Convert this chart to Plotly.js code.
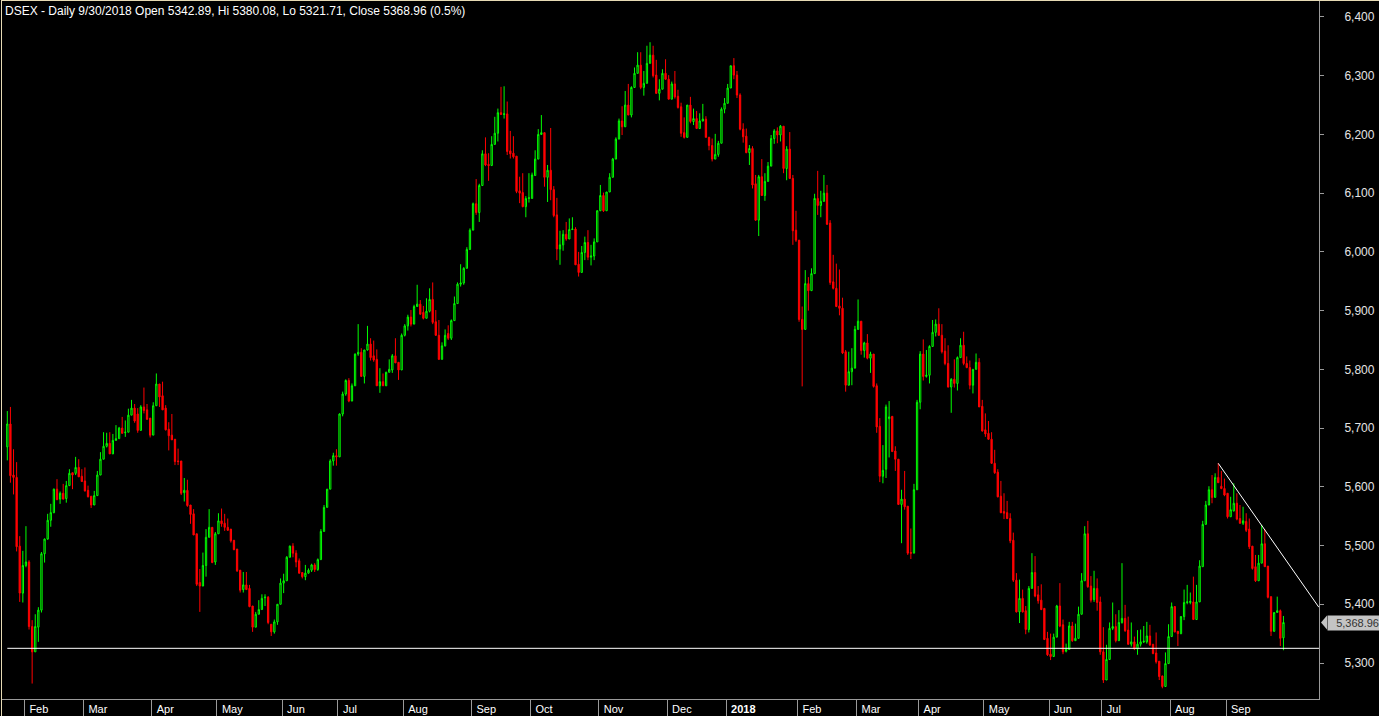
<!DOCTYPE html>
<html>
<head>
<meta charset="utf-8">
<script src="https://cdn.plot.ly/plotly-3.0.1.min.js"></script>
<style>
html,body{margin:0;padding:0;background:#000;overflow:hidden}
#chart{width:1379px;height:716px;position:absolute;left:0;top:0}
#frame{position:absolute;left:1px;top:0;width:1378px;height:716px;border-top:1px solid #e6dab4;border-left:1px solid #e6dab4;box-sizing:border-box;pointer-events:none}
</style>
</head>
<body>
<div id="chart"></div>
<div id="frame"></div>
<script>
// ---------------- data ----------------
const symbol = 'DSEX';
const headerText = 'DSEX - Daily 9/30/2018 Open 5342.89, Hi 5380.08, Lo 5321.71, Close 5368.96 (0.5%)';
const monthLabels = ['Feb','Mar','Apr','May','Jun','Jul','Aug','Sep','Oct','Nov','Dec','<b>2018</b>','Feb','Mar','Apr','May','Jun','Jul','Aug','Sep'];
const monthFirstBar = [6,25,47,68,89,107,128,150,169,191,213,232,255,274,294,315,336,353,375,393];
const priceTicks = [5300,5400,5500,5600,5700,5800,5900,6000,6100,6200,6300,6400];
const supportLevel = 5325;
const trendBars = [390, 422.4];
const trendValues = [5640, 5395];

const openP = [
5668,5707,5620,5616,5499,5419,5466,5472,5362,5319,
5361,5390,5486,5511,5543,5556,5596,5579,5589,5580,
5602,5624,5623,5633,5618,5610,5594,5584,5569,5585,
5620,5647,5669,5674,5656,5679,5682,5700,5692,5693,
5722,5734,5724,5696,5736,5731,5717,5688,5738,5775,
5755,5734,5698,5688,5681,5644,5644,5590,5594,5569,
5554,5520,5437,5431,5466,5514,5531,5472,5520,5542,
5538,5531,5528,5509,5494,5458,5425,5433,5427,5397,
5361,5383,5391,5411,5412,5366,5353,5370,5400,5436,
5440,5480,5499,5487,5474,5454,5447,5453,5458,5467,
5459,5476,5524,5565,5596,5644,5653,5651,5724,5758,
5781,5746,5772,5826,5829,5788,5833,5843,5823,5817,
5772,5779,5772,5795,5799,5823,5812,5799,5858,5874,
5889,5877,5907,5911,5897,5887,5899,5919,5881,5858,
5817,5840,5861,5853,5883,5912,5945,5947,5972,6004,
6037,6082,6067,6113,6167,6149,6147,6183,6202,6237,
6234,6235,6172,6168,6163,6104,6101,6077,6091,6091,
6130,6158,6200,6203,6127,6139,6106,6063,6005,6012,
6030,6022,6038,6039,5979,5965,5999,6016,5991,5993,
6017,6070,6096,6070,6102,6127,6158,6192,6223,6213,
6250,6233,6280,6304,6318,6280,6287,6321,6335,6301,
6270,6277,6304,6294,6260,6286,6265,6247,6203,6195,
6250,6222,6227,6210,6223,6226,6195,6181,6158,6166,
6185,6243,6253,6279,6317,6301,6267,6209,6197,6169,
6176,6116,6054,6128,6096,6120,6146,6193,6206,6199,
6214,6142,6175,6125,6037,6020,5885,5868,5946,5934,
5963,6091,6079,6086,6100,6049,5949,5938,5908,5904,
5830,5773,5796,5802,5868,5882,5832,5845,5819,5826,
5772,5703,5618,5630,5716,5720,5661,5647,5570,5579,
5567,5488,5487,5595,5744,5826,5788,5790,5839,5863,
5877,5858,5831,5810,5770,5783,5776,5820,5841,5810,
5803,5773,5800,5812,5737,5697,5691,5681,5640,5625,
5584,5558,5556,5546,5509,5441,5387,5410,5389,5357,
5427,5454,5416,5407,5393,5342,5315,5311,5344,5397,
5365,5320,5323,5363,5338,5342,5383,5440,5520,5431,
5408,5427,5404,5319,5271,5306,5359,5362,5338,5369,
5376,5356,5332,5336,5324,5332,5336,5336,5346,5332,
5317,5303,5278,5260,5299,5345,5396,5354,5350,5379,
5403,5403,5404,5374,5404,5464,5536,5569,5595,5582,
5616,5601,5597,5589,5549,5559,5572,5546,5538,5541,
5528,5499,5464,5440,5470,5503,5465,5413,5354,5386,
5389,5342.89];

const highP = [
5729,5736,5664,5642,5516,5491,5533,5475,5373,5383,
5395,5489,5512,5554,5571,5597,5613,5592,5605,5610,
5630,5624,5651,5647,5630,5633,5602,5584,5593,5627,
5659,5693,5692,5693,5690,5705,5702,5719,5713,5733,
5748,5741,5734,5739,5769,5741,5717,5744,5793,5775,
5779,5739,5710,5724,5681,5665,5644,5615,5612,5569,
5562,5520,5460,5488,5528,5562,5531,5523,5555,5563,
5554,5546,5528,5509,5494,5458,5455,5455,5433,5397,
5387,5407,5417,5417,5414,5366,5374,5400,5444,5452,
5482,5500,5504,5492,5478,5454,5467,5461,5469,5470,
5478,5528,5569,5596,5647,5658,5664,5725,5762,5783,
5785,5776,5827,5877,5836,5833,5874,5853,5849,5834,
5802,5793,5796,5817,5826,5853,5812,5861,5877,5893,
5901,5910,5944,5918,5908,5921,5938,5948,5901,5884,
5846,5868,5875,5885,5924,5948,5979,5974,6008,6040,
6084,6124,6116,6173,6195,6168,6197,6230,6244,6281,
6282,6256,6206,6197,6163,6128,6134,6095,6134,6135,
6173,6209,6233,6203,6148,6211,6112,6092,6036,6037,
6051,6057,6059,6042,6000,6010,6026,6037,6012,6023,
6071,6114,6101,6102,6134,6160,6195,6227,6248,6274,
6286,6282,6314,6340,6340,6308,6351,6357,6351,6327,
6294,6311,6328,6301,6290,6308,6276,6254,6229,6250,
6264,6244,6240,6236,6252,6231,6196,6193,6201,6189,
6246,6262,6286,6317,6330,6308,6270,6219,6210,6182,
6180,6131,6131,6158,6134,6153,6199,6209,6212,6216,
6214,6180,6204,6131,6070,6020,5907,5969,5957,5972,
6099,6138,6104,6131,6114,6054,5995,5980,5970,5922,
5833,5830,5836,5874,5919,5882,5847,5860,5830,5826,
5776,5717,5671,5740,5746,5720,5669,5647,5595,5627,
5567,5529,5605,5748,5831,5851,5833,5841,5884,5885,
5904,5877,5853,5841,5785,5817,5822,5853,5864,5822,
5815,5800,5827,5819,5748,5725,5712,5693,5663,5630,
5610,5589,5576,5555,5522,5453,5442,5425,5397,5431,
5487,5482,5431,5434,5393,5353,5350,5350,5399,5436,
5374,5333,5370,5370,5367,5396,5453,5533,5542,5448,
5457,5444,5413,5361,5331,5369,5403,5383,5390,5470,
5399,5379,5369,5345,5356,5357,5363,5370,5365,5332,
5352,5303,5278,5318,5366,5403,5397,5354,5380,5425,
5433,5420,5447,5433,5475,5542,5576,5601,5620,5623,
5640,5627,5614,5589,5583,5606,5589,5569,5566,5555,
5546,5499,5484,5484,5535,5528,5465,5413,5386,5413,
5391,5380.08];

const lowP = [
5645,5607,5587,5490,5404,5403,5463,5357,5265,5319,
5336,5386,5471,5510,5532,5555,5578,5571,5579,5573,
5602,5596,5620,5617,5609,5592,5582,5564,5569,5585,
5620,5647,5667,5656,5656,5679,5682,5691,5685,5693,
5722,5709,5692,5696,5725,5714,5684,5688,5738,5736,
5731,5696,5662,5680,5637,5637,5586,5575,5566,5537,
5518,5431,5387,5431,5447,5514,5470,5467,5520,5532,
5525,5525,5505,5492,5455,5420,5420,5425,5395,5353,
5361,5383,5391,5397,5366,5346,5350,5365,5400,5419,
5440,5480,5480,5463,5452,5444,5441,5452,5455,5455,
5457,5476,5524,5565,5596,5636,5636,5651,5720,5755,
5744,5746,5772,5823,5788,5776,5832,5815,5813,5772,
5760,5772,5772,5795,5794,5811,5782,5799,5856,5866,
5873,5877,5907,5893,5885,5887,5897,5877,5857,5816,
5817,5839,5850,5850,5883,5912,5941,5944,5972,6004,
6037,6063,6051,6113,6146,6121,6147,6183,6188,6234,
6227,6165,6159,6159,6100,6083,6076,6059,6084,6091,
6130,6158,6199,6111,6085,6088,6059,5986,5978,6002,
6019,6022,6038,5978,5958,5965,5986,5986,5977,5986,
6017,6070,6068,6070,6102,6127,6158,6192,6199,6213,
6233,6229,6280,6304,6277,6266,6287,6321,6297,6269,
6258,6277,6293,6260,6260,6261,6244,6196,6193,6195,
6219,6216,6210,6210,6222,6195,6173,6154,6158,6162,
6185,6236,6253,6279,6294,6262,6207,6186,6168,6148,
6108,6053,6027,6096,6087,6120,6146,6184,6185,6188,
6134,6122,6124,6012,6017,5881,5771,5868,5900,5934,
5963,6063,6059,6086,6046,5944,5936,5906,5892,5826,
5762,5773,5773,5802,5868,5825,5820,5817,5794,5769,
5692,5608,5606,5615,5650,5660,5627,5569,5504,5561,
5484,5477,5487,5595,5732,5781,5786,5776,5839,5856,
5857,5827,5807,5769,5726,5769,5764,5820,5807,5802,
5766,5759,5800,5736,5694,5685,5680,5639,5622,5582,
5555,5545,5545,5504,5438,5386,5368,5386,5349,5352,
5427,5412,5401,5390,5339,5312,5305,5311,5344,5361,
5315,5318,5323,5336,5338,5342,5383,5440,5428,5403,
5404,5389,5314,5266,5271,5306,5356,5335,5338,5367,
5353,5331,5328,5322,5314,5328,5334,5333,5329,5315,
5299,5271,5257,5260,5299,5345,5352,5329,5349,5373,
5400,5400,5374,5374,5404,5464,5536,5569,5572,5582,
5607,5596,5584,5546,5549,5558,5543,5537,5535,5523,
5494,5459,5438,5440,5470,5464,5410,5346,5353,5386,
5329,5321.71];

const closeP = [
5707,5619,5616,5498,5419,5466,5472,5362,5319,5362,
5390,5486,5511,5543,5556,5596,5578,5589,5579,5602,
5623,5620,5633,5617,5609,5593,5583,5569,5585,5620,
5647,5669,5674,5656,5679,5682,5700,5691,5693,5722,
5734,5712,5696,5736,5730,5715,5688,5738,5775,5753,
5731,5697,5687,5680,5643,5643,5589,5594,5568,5553,
5518,5434,5431,5466,5514,5531,5471,5520,5542,5537,
5531,5526,5508,5493,5457,5424,5433,5425,5396,5361,
5383,5391,5410,5412,5369,5353,5370,5400,5436,5440,
5480,5499,5487,5472,5453,5447,5453,5458,5467,5459,
5476,5524,5565,5596,5644,5653,5651,5724,5758,5781,
5746,5772,5826,5829,5788,5833,5843,5820,5816,5772,
5779,5772,5795,5800,5823,5811,5799,5858,5874,5889,
5877,5907,5911,5894,5887,5899,5919,5880,5858,5817,
5840,5858,5853,5883,5912,5945,5947,5972,6004,6037,
6082,6067,6113,6167,6148,6147,6183,6202,6237,6234,
6235,6171,6167,6162,6103,6100,6077,6091,6092,6131,
6158,6200,6203,6127,6139,6106,6062,6005,6012,6030,
6022,6038,6039,5978,5965,5999,6016,5991,5993,6017,
6070,6096,6070,6102,6127,6158,6192,6223,6213,6250,
6233,6280,6304,6318,6280,6287,6321,6335,6300,6270,
6277,6304,6294,6260,6286,6264,6246,6202,6195,6250,
6222,6227,6210,6223,6226,6195,6181,6158,6166,6185,
6243,6253,6279,6317,6301,6267,6209,6196,6169,6176,
6114,6054,6128,6096,6120,6146,6193,6206,6199,6214,
6142,6175,6125,6036,6020,5885,5868,5946,5934,5963,
6091,6079,6086,6100,6047,5948,5938,5907,5904,5828,
5773,5796,5802,5868,5882,5832,5845,5819,5826,5771,
5702,5618,5628,5736,5719,5660,5647,5570,5579,5566,
5487,5487,5595,5744,5826,5788,5790,5839,5863,5877,
5858,5830,5810,5770,5783,5776,5820,5841,5810,5803,
5773,5800,5812,5736,5695,5690,5681,5640,5624,5583,
5556,5555,5546,5508,5441,5387,5410,5387,5357,5427,
5454,5414,5406,5391,5340,5314,5311,5344,5397,5363,
5319,5323,5363,5338,5342,5383,5440,5520,5430,5407,
5427,5403,5319,5271,5306,5359,5362,5338,5369,5376,
5355,5332,5336,5324,5332,5336,5337,5346,5331,5316,
5302,5277,5260,5299,5345,5396,5353,5350,5379,5403,
5404,5405,5374,5404,5465,5536,5569,5595,5582,5616,
5607,5597,5586,5549,5561,5572,5545,5538,5542,5526,
5498,5461,5440,5470,5503,5464,5412,5354,5386,5389,
5342,5368.96];

// ---------------- chart ----------------
const barIndex = closeP.map((_, i) => i);
const last = closeP.length - 1;
const lastClose = closeP[last];
const xRange = [-1.71, 422.45];
const yRange = [5238.7, 6427.2];
const FONT = 'Arial, "Liberation Sans", sans-serif';

const candles = {
  type: 'candlestick',
  x: barIndex,
  open: openP, high: highP, low: lowP, close: closeP,
  increasing: {line: {color: '#00ff00', width: 1}, fillcolor: '#000000'},
  decreasing: {line: {color: '#ff0000', width: 1}, fillcolor: '#ff0000'},
  whiskerwidth: 0,
  hoverinfo: 'none',
  showlegend: false
};

// label arrow on right axis (paper units: 1px = 1/1317)
const pxp = 1 / 1317;
const yPerPx = (yRange[1] - yRange[0]) / 698;
const arrowPath = `M ${1 + 2 * pxp},${lastClose} L ${1 + 8 * pxp},${lastClose + 7 * yPerPx} L ${1 + 8 * pxp},${lastClose - 7 * yPerPx} Z`;

const layout = {
  width: 1379, height: 716,
  paper_bgcolor: '#000000', plot_bgcolor: '#000000',
  margin: {l: 2, r: 60, t: 1, b: 17, pad: 0},
  showlegend: false,
  boxgap: 0.4,
  font: {family: FONT, color: '#ffffff', size: 11},
  title: {
    text: headerText,
    x: 5 / 1379, xref: 'container', xanchor: 'left',
    y: 1 - 11 / 716, yref: 'container', yanchor: 'middle',
    font: {family: FONT, size: 12, color: '#ffffff'}
  },
  xaxis: {
    range: xRange, autorange: false, fixedrange: true,
    rangeslider: {visible: false},
    showgrid: false, zeroline: false,
    showline: true, linecolor: '#9a9a9a', linewidth: 1,
    ticks: 'outside', ticklen: 17, tickwidth: 1, tickcolor: '#9a9a9a',
    tickmode: 'array',
    tickvals: monthFirstBar.map(b => b - 0.5),
    ticktext: monthLabels,
    ticklabelposition: 'outside right',
    ticklabelstandoff: 0,
    ticklabelshift: 4,
    tickfont: {family: FONT, size: 11, color: '#ffffff'}
  },
  yaxis: {
    side: 'right',
    range: yRange, autorange: false, fixedrange: true,
    showgrid: false, zeroline: false,
    showline: true, linecolor: '#9a9a9a', linewidth: 1,
    ticks: 'outside', ticklen: 4, tickwidth: 1, tickcolor: '#9a9a9a',
    tickmode: 'array',
    tickvals: priceTicks,
    ticktext: priceTicks.map(v => v.toLocaleString('en-US')),
    ticklabelstandoff: 18,
    tickfont: {family: FONT, size: 12, color: '#e4e4e4'}
  },
  shapes: [
    {type: 'line', xref: 'x', yref: 'y', x0: barIndex[0], x1: xRange[1], y0: supportLevel, y1: supportLevel,
     line: {color: '#ffffff', width: 1}},
    {type: 'line', xref: 'x', yref: 'y', x0: trendBars[0], x1: trendBars[1], y0: trendValues[0], y1: trendValues[1],
     line: {color: '#ffffff', width: 1}},
    {type: 'path', xref: 'paper', yref: 'y', path: arrowPath, fillcolor: '#c4c4c4', line: {width: 0}, layer: 'above'}
  ],
  annotations: [{
    xref: 'paper', yref: 'y', x: 1, y: lastClose,
    xanchor: 'left', yanchor: 'middle', xshift: 8,
    text: lastClose.toLocaleString('en-US', {minimumFractionDigits: 2, maximumFractionDigits: 2}),
    showarrow: false, bgcolor: '#c4c4c4', borderpad: 1, width: 50, align: 'right',
    font: {family: FONT, size: 11, color: '#333333'}
  }]
};

Plotly.newPlot('chart', [candles], layout, {displayModeBar: false, staticPlot: true});
</script>
</body>
</html>
